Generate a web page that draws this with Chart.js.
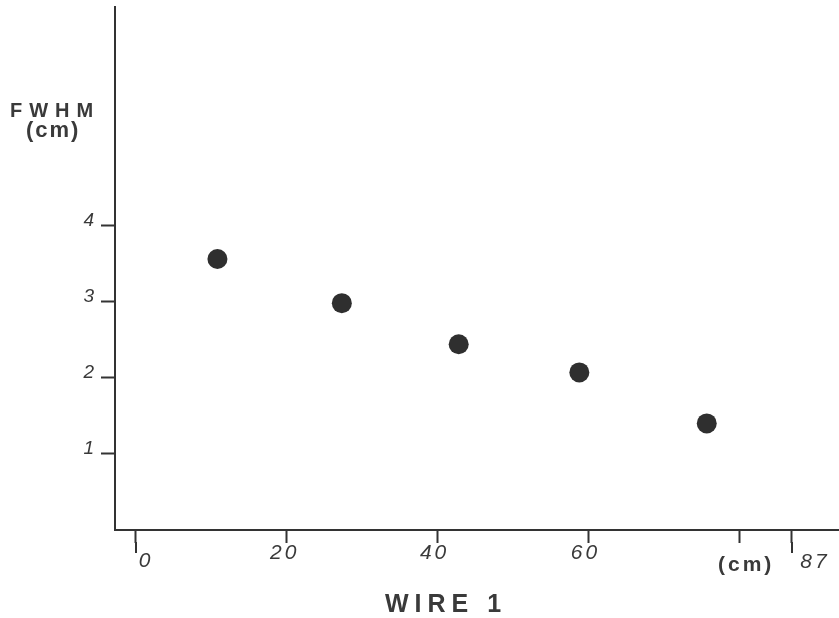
<!DOCTYPE html>
<html>
<head>
<meta charset="utf-8">
<script src="https://cdn.jsdelivr.net/npm/chart.js@4.4.1/dist/chart.umd.min.js"></script>
<style>
  body { margin: 0; background: #fff; }
  #fwhmChart { display: block; }
</style>
</head>
<body>
<canvas id="fwhmChart" width="839" height="618"></canvas>
<script>
// FWHM resolution measured along wire 1
const wirePos = [10.8, 27.3, 42.8, 58.8, 75.7];
const fwhm = [3.56, 2.98, 2.44, 2.07, 1.40];

const xTicks = [0, 20, 40, 60, 80, 87];
const xTickLabels = ['0', '20', '40', '60', '(cm)', '87'];
const yTicks = [1, 2, 3, 4];
const longTicks = [0, 87];

const ink = '#333';
const textInk = '#3a3a3a';

// hand lettered labels sit a little off their ticks
const labelNudge = { 0: [10, 8], 20: [-2, 0], 40: [-3, 0], 60: [-3, 0], 80: [7, 12], 87: [23, 9] };

const lettering = {
  id: 'lettering',
  afterDraw(chart) {
    const c = chart.ctx;
    const xs = chart.scales.x;
    const base = xs.top;
    c.save();
    c.fillStyle = textInk;
    c.strokeStyle = ink;
    c.lineWidth = 2;

    // longer end ticks at 0 and 87
    longTicks.forEach(v => {
      const px = Math.round(xs.getPixelForValue(v));
      c.beginPath();
      c.moveTo(px, base + 12);
      c.lineTo(px, base + 23);
      c.stroke();
    });

    // x tick labels
    c.textAlign = 'center';
    c.textBaseline = 'middle';
    xTicks.forEach((v, i) => {
      const n = labelNudge[v] || [0, 0];
      const label = xTickLabels[i];
      if (label === '(cm)') {
        c.font = 'bold 21px "Liberation Sans", Arial, sans-serif';
      } else {
        c.font = 'italic 21px "Liberation Sans", Arial, sans-serif';
      }
      c.letterSpacing = '3px';
      c.fillText(label, xs.getPixelForValue(v) + n[0], base + 23 + n[1]);
    });

    // axis titles
    c.textAlign = 'left';
    c.textBaseline = 'alphabetic';
    c.font = 'bold 20px "Liberation Sans", Arial, sans-serif';
    c.letterSpacing = '7px';
    c.fillText('FWHM', 10, 117);
    c.font = 'bold 22px "Liberation Sans", Arial, sans-serif';
    c.letterSpacing = '2px';
    c.fillText('(cm)', 26, 137);
    c.font = 'bold 25px "Liberation Sans", Arial, sans-serif';
    c.letterSpacing = '6px';
    c.fillText('WIRE 1', 385, 612);
    c.restore();
  }
};

new Chart(document.getElementById('fwhmChart'), {
  type: 'scatter',
  data: {
    datasets: [{
      data: wirePos.map((x, i) => ({ x: x, y: fwhm[i] })),
      backgroundColor: '#2f2f2f',
      borderWidth: 0,
      pointRadius: 10,
      pointHoverRadius: 10
    }]
  },
  options: {
    responsive: false,
    animation: false,
    layout: { autoPadding: false, padding: { top: 7, left: 0, right: 0, bottom: 0 } },
    plugins: { legend: { display: false }, tooltip: { enabled: false } },
    scales: {
      x: {
        type: 'linear',
        min: -2.785,
        max: 93.24,
        afterBuildTicks: s => { s.ticks = xTicks.map(v => ({ value: v })); },
        afterFit: s => { s.height = 88; s.paddingLeft = 0; s.paddingRight = 0; },
        ticks: { display: false },
        grid: { drawOnChartArea: false, tickLength: 13, tickColor: ink, tickWidth: 2 },
        border: { color: ink, width: 2 }
      },
      y: {
        min: 0,
        max: 6.87,
        afterBuildTicks: s => { s.ticks = yTicks.map(v => ({ value: v })); },
        afterFit: s => { s.width = 115; s.paddingTop = 0; s.paddingBottom = 0; },
        ticks: {
          padding: 7,
          labelOffset: -5,
          color: textInk,
          font: { family: '"Liberation Sans", Arial, sans-serif', size: 19, style: 'italic' }
        },
        grid: { drawOnChartArea: false, tickLength: 14, tickColor: ink, tickWidth: 2 },
        border: { color: ink, width: 2 }
      }
    }
  },
  plugins: [lettering]
});
</script>
</body>
</html>
